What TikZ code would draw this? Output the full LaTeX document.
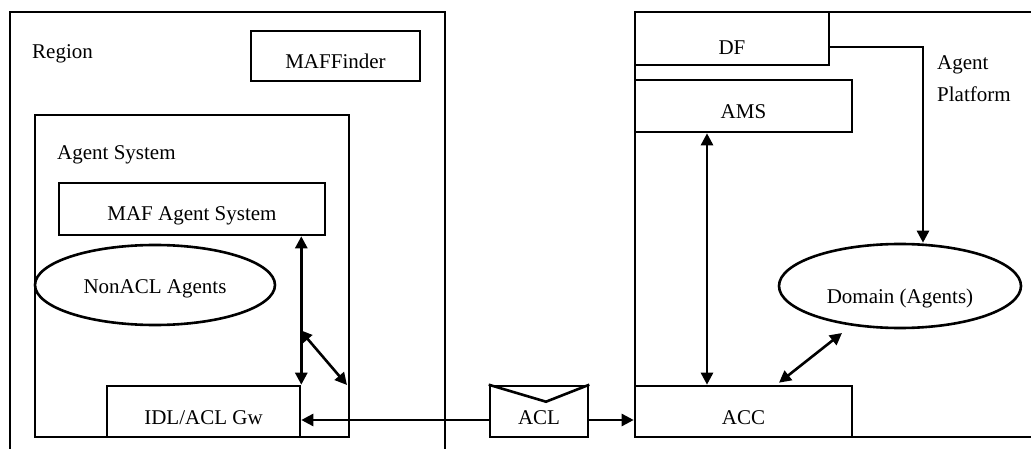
\documentclass[tikz,border=0pt]{standalone}
\usepackage{fontspec}
\setmainfont{Liberation Serif}
\usetikzlibrary{arrows.meta,shapes.geometric}
\begin{document}
\begin{tikzpicture}[x=1pt,y=-1pt,
  every node/.style={font=\fontsize{21}{25}\selectfont},
  ln/.style={line width=2.6pt},
  box/.style={ln,draw,rectangle,inner sep=1pt,minimum width=#1},
  tb/.style={text height=#1,text depth=0pt},
  oval/.style={ln,draw,ellipse,inner sep=1pt},
  lbl/.style={anchor=base west,inner sep=0pt},
  tip/.style={-{Triangle[length=12pt,width=12pt]}},
  dtip/.style={{Triangle[length=12pt,width=12pt]}-{Triangle[length=12pt,width=12pt]}}]
\useasboundingbox (0,0) rectangle (1031,449);
% outer region (open at bottom)
\draw[ln] (10,449) -- (10,12) -- (445,12) -- (445,449);
\node[lbl] (region) at (32,59) {Region};
\node[box=169pt,minimum height=50pt,tb=25pt] (maffinder) at (335.5,56) {MAFFinder};
% agent system
\node[box=314pt,minimum height=322pt] (as) at (192,276) {};
\node[lbl] (aslbl) at (57,160) {Agent System};
\node[box=266pt,minimum height=52pt,tb=24pt] (maf) at (192,209) {MAF Agent System};
\node[oval,minimum width=240pt,minimum height=80pt,tb=16pt] (nonacl) at (155,285) {NonACL Agents};
\node[box=193pt,minimum height=51pt,tb=25pt] (idl) at (203.5,411.5) {IDL/ACL Gw};
% ACL envelope
\node[box=98pt,minimum height=51pt,tb=25pt] (acl) at (539,411.5) {ACL};
\draw[ln] (acl.north west) -- ([shift={(7pt,-17pt)}]acl.north) -- (acl.north east);
% agent platform (open at right)
\draw[ln] (1031,12) -- (635,12) -- (635,437) -- (1031,437);
\node[box=194pt,minimum height=53pt,tb=33pt] (df) at (732,38.5) {DF};
\node[box=217pt,minimum height=52pt,tb=26pt] (ams) at (743.5,106) {AMS};
\node[box=217pt,minimum height=51pt,tb=25pt] (acc) at (743.5,411.5) {ACC};
\node[oval,minimum width=242pt,minimum height=84pt,tb=34pt] (domain) at (900,286) {Domain (Agents)};
\node[lbl] (agent) at (937,70) {Agent};
\node[lbl] (platform) at (937,102) {Platform};
% connectors
\coordinate (d1) at (300,330);
\coordinate (d2) at (347,385);
\coordinate (d3) at (842,333);
\draw[ln,dtip] (idl.north east |- maf.south) -- (idl.north east);
\draw[ln,dtip] (d1) -- (d2);
\draw[ln,tip] ([yshift=-8.5pt]acl.west) -- ([yshift=-8.5pt]idl.east);
\draw[ln,tip] ([yshift=-8.5pt]acl.east) -- ([yshift=-8.5pt]acc.west);
\draw[ln,dtip] ([xshift=-36.5pt]ams.south) -- ([xshift=-36.5pt]acc.north);
\draw[ln,tip] ([yshift=-8.5pt]df.east) -| ([xshift=23pt]domain.north);
\draw[ln,dtip] ([shift={(35.5pt,2pt)}]acc.north) -- (d3);
\end{tikzpicture}
\end{document}
